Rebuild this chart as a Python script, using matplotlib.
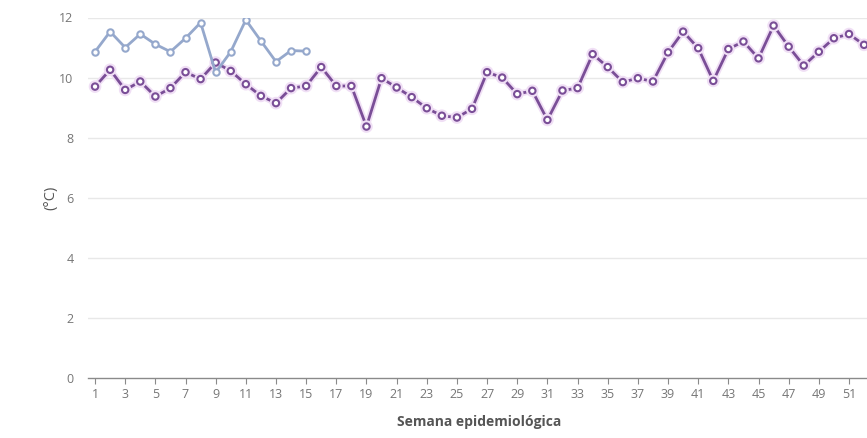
import matplotlib
matplotlib.use("Agg")
import matplotlib.pyplot as plt
import matplotlib.patheffects as pe

plt.rcParams['font.family'] = ['Open Sans', 'DejaVu Sans']

weeks = list(range(1, 53))

temp_actual = [10.86, 11.53, 11.00, 11.45, 11.11, 10.86, 11.31, 11.83, 10.17, 10.86,
               11.92, 11.22, 10.53, 10.90, 10.88]

temp_anterior = [9.70, 10.26, 9.59, 9.87, 9.37, 9.65, 10.18, 9.95, 10.50, 10.22,
                 9.78, 9.39, 9.15, 9.65, 9.72, 10.35, 9.72, 9.72, 8.37, 9.98,
                 9.67, 9.35, 8.98, 8.73, 8.67, 8.96, 10.18, 10.00, 9.45, 9.56,
                 8.59, 9.57, 9.65, 10.78, 10.35, 9.85, 9.98, 9.87, 10.84, 11.53,
                 10.98, 9.89, 10.95, 11.20, 10.64, 11.73, 11.03, 10.40, 10.86, 11.31,
                 11.45, 11.09]

y_ticks = [0, 2, 4, 6, 8, 10, 12]
x_ticks = list(range(1, 53, 2))

W, H = 867, 438
fig = plt.figure(figsize=(W / 100, H / 100), dpi=100)
left, right = 87.5, 871.6
top, bottom = 17.5, 378.0
ax = fig.add_axes([left / W, (H - bottom) / H, (right - left) / W, (bottom - top) / H])

ax.set_xlim(0.5, 52.5)
ax.set_ylim(0, 12)

for y in y_ticks[1:]:
    ax.axhline(y, color='#e8e8e8', lw=1, zorder=0)

purple = '#7a4e97'
blue = '#95a8cc'

ax.plot(weeks[:len(temp_anterior)], temp_anterior, color=purple, lw=2.0,
        marker='o', ms=4.6, mfc='white', mec=purple, mew=1.5, zorder=3,
        path_effects=[pe.Stroke(linewidth=4.5, foreground='#f0dff5'), pe.Normal()])
ax.plot(weeks[:len(temp_actual)], temp_actual, color=blue, lw=2.0,
        marker='o', ms=4.6, mfc='white', mec=blue, mew=1.5, zorder=4)

for s in ['top', 'right', 'left']:
    ax.spines[s].set_visible(False)
ax.spines['bottom'].set_color('#8a8a8a')
ax.spines['bottom'].set_linewidth(1)

ax.set_yticks(y_ticks)
ax.set_yticklabels([str(v) for v in y_ticks])
ax.set_xticks(x_ticks)
ax.set_xticklabels([str(v) for v in x_ticks])
ax.tick_params(axis='y', length=0, pad=10, labelsize=9, labelcolor='#767676')
ax.tick_params(axis='x', length=4, width=0.8, color='#8a8a8a', pad=3,
               labelsize=9, labelcolor='#767676')

ax.set_ylabel('(°C)', fontsize=10.5, color='#555555', labelpad=1)
ax.set_xlabel('Semana epidemiológica', fontsize=10, fontweight='bold',
              color='#555555', labelpad=10)

fig.savefig('out.png', dpi=100)
